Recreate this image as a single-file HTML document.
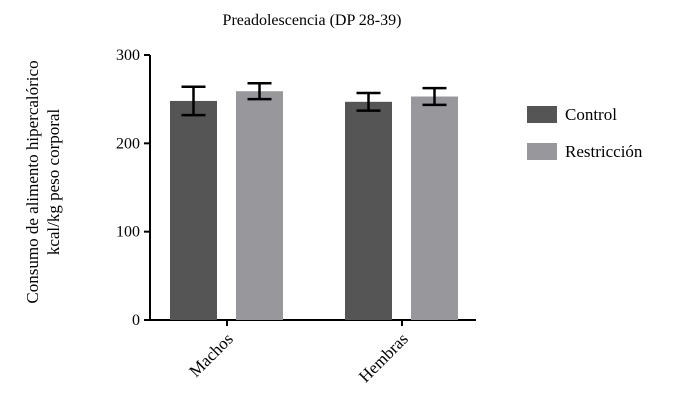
<!DOCTYPE html>
<html><head><meta charset="utf-8"><style>
body{margin:0;background:#fff}
svg text{font-family:"Liberation Serif",serif;fill:#000}
</style></head><body>
<svg width="681" height="409">
<text x="312" y="25" font-size="16" text-anchor="middle">Preadolescencia (DP 28-39)</text>
<g id="plot"></g>
<text transform="translate(38,182) rotate(-90)" font-size="17" text-anchor="middle">Consumo de alimento hipercalórico</text>
<text transform="translate(59,182) rotate(-90)" font-size="17" text-anchor="middle">kcal/kg peso corporal</text>
<g>
<rect x="527" y="106" width="30" height="17" fill="#555555"/>
<text x="565" y="120" font-size="17">Control</text>
<rect x="527" y="143" width="30" height="17" fill="#98979c"/>
<text x="565" y="157" font-size="17">Restricción</text>
</g>
</svg>
<script>
const categories=["Machos","Hembras"];
const controlValues=[248,247];
const controlErr=[16,10];
const restrValues=[259,253];
const restrErr=[9,9.5];
const yTicks=[0,100,200,300];
const NS="http://www.w3.org/2000/svg";
const g=document.getElementById("plot");
const y0=320,y1=55,yMax=300;
const y=v=>y0-(v/yMax)*(y0-y1);
const catX=i=>227+i*175;
function mk(t,a,parent){const e=document.createElementNS(NS,t);for(const k in a)e.setAttribute(k,a[k]);(parent||g).appendChild(e);return e;}
let ax=mk("line",{x1:150,y1:y1,x2:150,y2:y0+1,stroke:"#000","stroke-width":2});


let xx=mk("line",{x1:149,y1:y0,x2:476,y2:y0,stroke:"#000","stroke-width":2});


yTicks.forEach(v=>{
 let t=mk("line",{x1:144,y1:y(v),x2:150,y2:y(v),stroke:"#000","stroke-width":2});
 
 
 let l=mk("text",{x:140,y:y(v)+5,"font-size":16,"text-anchor":"end"});
 l.textContent=v;
 
 
});
function bar(cx,v,e,color,name){
 let r=mk("rect",{x:cx,y:y(v),width:47,height:y0-y(v),fill:color});
 
 
 const m=cx+23.5;
 const eg=mk("g",{stroke:"#000","stroke-width":2.5,fill:"none"});
 
 
 mk("line",{x1:m,y1:y(v+e),x2:m,y2:y(v-e)},eg);
 mk("line",{x1:m-12,y1:y(v+e),x2:m+12,y2:y(v+e)},eg);
 mk("line",{x1:m-12,y1:y(v-e),x2:m+12,y2:y(v-e)},eg);
}
categories.forEach((c,i)=>{
 const cx=catX(i);
 bar(cx-57,controlValues[i],controlErr[i],"#555555","bar-control-"+c.toLowerCase());
 bar(cx+9,restrValues[i],restrErr[i],"#98979c","bar-restriccion-"+c.toLowerCase());
 let t=mk("line",{x1:cx,y1:y0,x2:cx,y2:y0+6,stroke:"#000","stroke-width":2});
 
 
 let l=mk("text",{transform:`translate(${cx+7},${y0+20}) rotate(-45)`,"font-size":17,"text-anchor":"end"});
 l.textContent=c;
 
 
});
</script>
</body></html>
